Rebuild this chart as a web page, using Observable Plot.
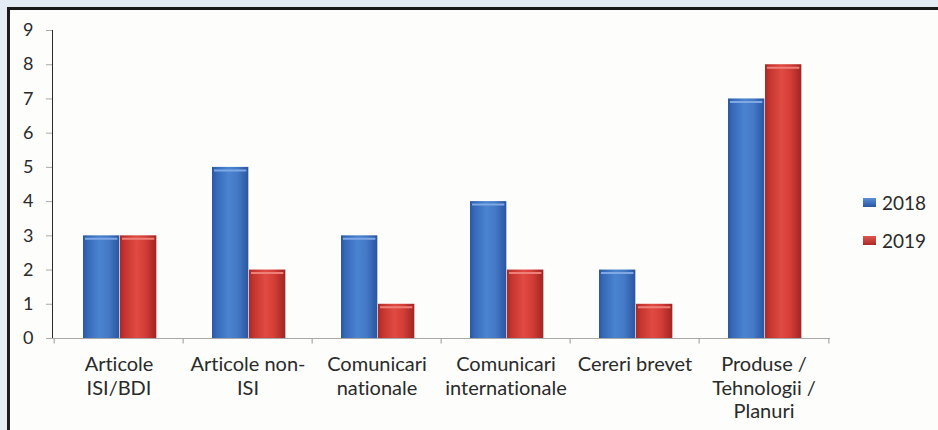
<!DOCTYPE html>
<html>
<head>
<meta charset="utf-8">
<script src="https://cdn.jsdelivr.net/npm/d3@7"></script>
<script src="https://cdn.jsdelivr.net/npm/@observablehq/plot@0.6"></script>
<style>
  html, body { margin: 0; padding: 0; }
  body { width: 938px; height: 430px; background: #e3ecf5; position: relative; overflow: hidden; font-family: Lato, "Open Sans", sans-serif; }
  #frame { position: absolute; left: 7px; top: 7px; width: 940px; height: 440px; border-left: 3px solid #1a1a1a; border-top: 3px solid #1a1a1a; background: #fdfdfc; }
  #chart { position: absolute; left: 0; top: 0; }
  #chart svg text { font-variant-ligatures: none; font-feature-settings: "liga" 0, "clig" 0; }
  #legend { position: absolute; left: 863px; top: 190px; font-family: Lato, sans-serif; font-size: 19px; color: #2a2a2a; }
  #legend .item { display: flex; align-items: center; height: 24px; margin-bottom: 14px; }
  #legend .sw { width: 13px; height: 9px; margin-right: 6px; }
</style>
</head>
<body>
<div id="frame"></div>
<div id="chart"></div>
<div id="legend"></div>
<script>
const categories = ["Articole ISI/BDI", "Articole non-ISI", "Comunicari nationale", "Comunicari internationale", "Cereri brevet", "Produse / Tehnologii / Planuri"];
const categoryLabels = ["Articole\nISI/BDI", "Articole non-\nISI", "Comunicari\nnationale", "Comunicari\ninternationale", "Cereri brevet", "Produse /\nTehnologii /\nPlanuri"];
const series = ["2018", "2019"];
const values2018 = [3, 5, 3, 4, 2, 7];
const values2019 = [3, 2, 1, 2, 1, 8];
const yTicks = [0, 1, 2, 3, 4, 5, 6, 7, 8, 9];

const rows2018 = categories.map((c, i) => ({cat: c, value: values2018[i]}));
const rows2019 = categories.map((c, i) => ({cat: c, value: values2019[i]}));
const labelRows = categories.map((c, i) => ({cat: c, label: categoryLabels[i]}));

const W = 938, H = 430, ML = 52, MR = 108, MT = 30, MB = 92;
const band = (W - ML - MR) / categories.length;

const axisGrey = "#a9a9a9";
const chart = Plot.plot({
  width: W, height: H,
  marginLeft: ML, marginRight: MR, marginTop: MT, marginBottom: MB,
  style: {background: "transparent", color: "#2a2a2a", fontFamily: "Lato, sans-serif", fontSize: "18px", overflow: "visible"},
  x: {domain: categories, padding: 0, axis: null},
  y: {domain: [0, 9], ticks: yTicks, tickSize: 6, tickPadding: 13, label: null, line: true},
  marks: [
    Plot.barY(rows2018, {x: "cat", y: "value", fill: "url(#gBlue)", insetLeft: 29, insetRight: band - 66}),
    Plot.barY(rows2019, {x: "cat", y: "value", fill: "url(#gRed)", insetLeft: 66, insetRight: band - 103}),
    Plot.tickY(rows2018, {x: "cat", y: "value", dy: 3, stroke: "#7fa8e4", strokeWidth: 2, insetLeft: 31, insetRight: band - 64}),
    Plot.tickY(rows2019, {x: "cat", y: "value", dy: 3, stroke: "#ee8079", strokeWidth: 2, insetLeft: 68, insetRight: band - 101}),
    Plot.ruleY([0], {stroke: axisGrey, strokeWidth: 1.2}),
    Plot.ruleX(categories, {x: d => d, y1: 0, y2: -0.16, dx: -band / 2, stroke: axisGrey, strokeWidth: 1.2}),
    Plot.ruleX(categories.slice(-1), {x: d => d, y1: 0, y2: -0.16, dx: band / 2, stroke: axisGrey, strokeWidth: 1.2}),
    Plot.text(labelRows, {x: "cat", text: "label", frameAnchor: "bottom", lineAnchor: "top", dy: 16, lineHeight: 1.18, fill: "#2a2a2a", fontSize: 20})
  ]
});
document.getElementById("chart").appendChild(chart);

// gradients for the cylinder-like bar shading
const svg = d3.select(chart);
const defs = svg.insert("defs", ":first-child");
function grad(id, stops) {
  const g = defs.append("linearGradient").attr("id", id).attr("x1", "0").attr("x2", "1").attr("y1", "0").attr("y2", "0");
  stops.forEach(([o, c]) => g.append("stop").attr("offset", o).attr("stop-color", c));
}
grad("gBlue", [["0%", "#2a57a2"], ["12%", "#3669b8"], ["45%", "#4a84d0"], ["70%", "#4479c6"], ["100%", "#2a55a0"]]);
grad("gRed", [["0%", "#a82a27"], ["12%", "#c4342f"], ["45%", "#e04a42"], ["70%", "#d33d37"], ["100%", "#a02522"]]);

// grey axis line and ticks
svg.selectAll("[aria-label='y-axis tick'] path, [aria-label='y-axis tick'], [aria-label='y-axis'] line, [aria-label='y-axis'] path.domain, [aria-label='y-axis line']").attr("stroke", axisGrey);
svg.selectAll("[aria-label='y-axis tick label'] text, [aria-label='y-axis tick label']").attr("fill", "#2a2a2a");

// legend
const legend = d3.select("#legend");
series.forEach((s, i) => {
  const item = legend.append("div").attr("class", "item");
  item.append("div").attr("class", "sw").style("background", i === 0 ? "linear-gradient(#5b8fd8, #2a57a2)" : "linear-gradient(#e0574f, #a82a27)");
  item.append("span").text(s);
});
</script>
</body>
</html>
